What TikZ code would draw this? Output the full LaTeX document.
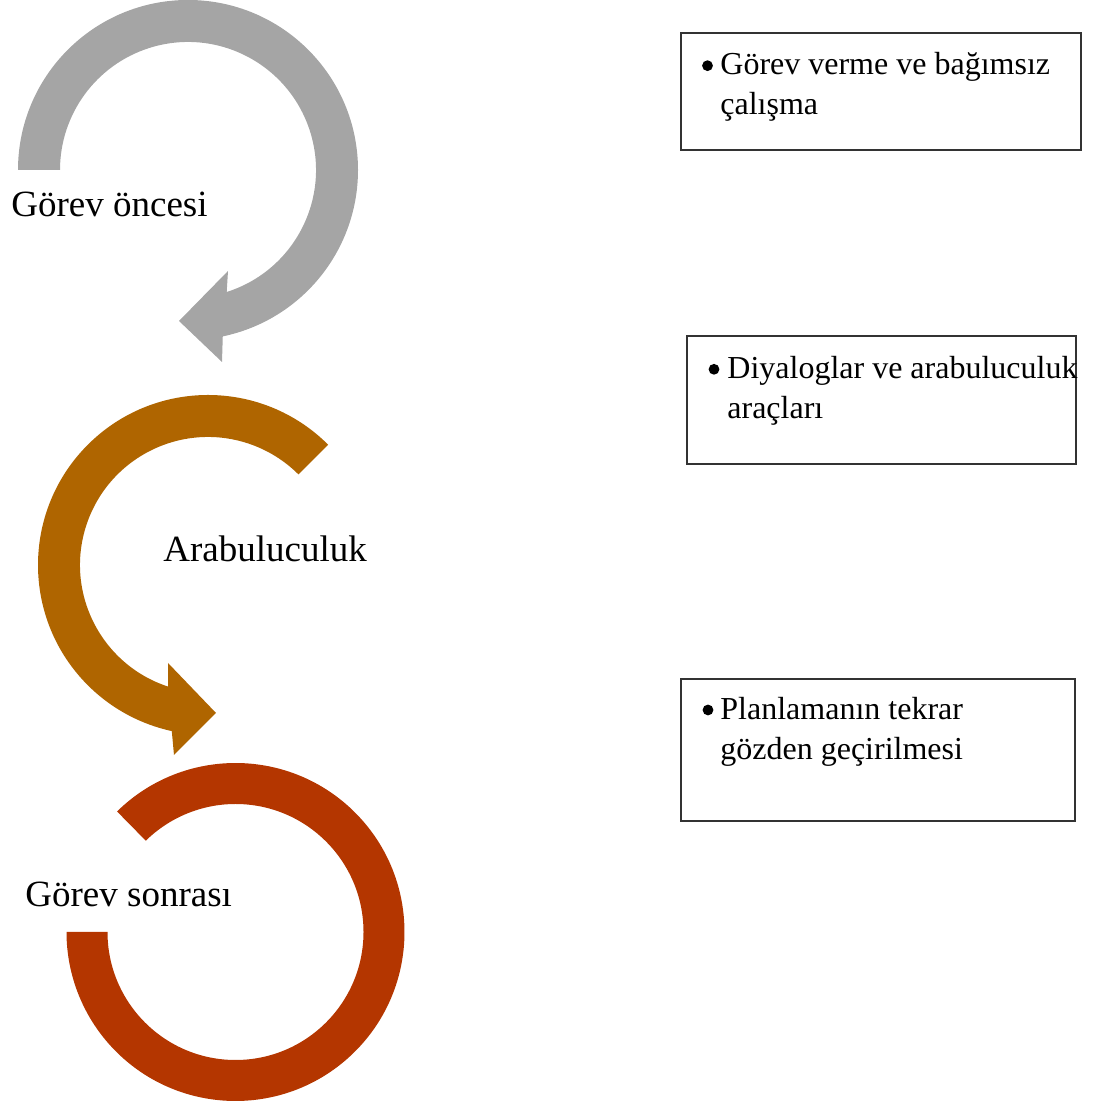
\documentclass[tikz,border=0pt]{standalone}
\usepackage{fontspec}
\setmainfont{Liberation Serif}
\usetikzlibrary{calc}
\definecolor{grayc}{HTML}{A5A5A5}
\definecolor{brownc}{HTML}{AF6500}
\definecolor{redc}{HTML}{B43600}
\begin{document}
\begin{tikzpicture}[x=0.5pt,y=0.5pt,
  lbl/.style={anchor=base west, inner sep=0pt, font=\fontsize{18.5}{22}\selectfont},
  txt/.style={anchor=base west, inner sep=0pt, font=\fontsize{16}{20}\selectfont},
  box/.style={draw=black!80, line width=0.6pt, inner sep=0pt},
  bul/.style={circle, fill=black, inner sep=0pt, minimum size=5.4pt}]
\useasboundingbox (0,0) rectangle (1093,1106);

% gray circular arrow
\coordinate (gc) at (188,936);
\fill[grayc] ($(gc)+(180:170)$) arc[start angle=180, end angle=-78.2, radius=170]
  -- (222,744) -- (179,785) -- (228,835)
  -- ($(gc)+(-72.4:128)$) arc[start angle=-72.4, end angle=180, radius=128] -- cycle;

% brown circular arrow
\coordinate (bc) at (208,541);
\fill[brownc] ($(bc)+(45:170)$) arc[start angle=45, end angle=257.7, radius=170]
  -- (174,351) -- (216,393) -- (168,443)
  -- ($(bc)+(251.8:128)$) arc[start angle=251.8, end angle=45, radius=128] -- cycle;

% red arc
\coordinate (rc) at (235.5,174);
\fill[redc] ($(rc)+(134.5:169)$) arc[start angle=134.5, end angle=-180, radius=169]
  -- ($(rc)+(180:128)$) arc[start angle=-180, end angle=134.5, radius=128] -- cycle;

% labels
\node[lbl] (l1) at (11,889) {Görev öncesi};
\node[lbl] (l2) at (163,544) {Arabuluculuk};
\node[lbl] (l3) at (25,199) {Görev sonrası};

% boxes
\node[box, minimum width=200pt, minimum height=58.5pt] (b1) at (881,1014.5) {};
\node[box, minimum width=194.5pt, minimum height=64pt] (b2) at (881.5,706) {};
\node[box, minimum width=197pt, minimum height=71pt] (b3) at (878,356) {};

\node[bul] (u1) at (707.5,1040.3) {};
\node[txt] (t1a) at (720,1031.7) {Görev verme ve bağımsız};
\node[txt] (t1b) at (720,991.7) {çalışma};

\node[bul] (u2) at (714,736.7) {};
\node[txt] (t2a) at (727,727.7) {Diyaloglar ve arabuluculuk};
\node[txt] (t2b) at (727,687) {araçları};

\node[bul] (u3) at (708,396) {};
\node[txt] (t3a) at (720,386) {Planlamanın tekrar};
\node[txt] (t3b) at (720,346.7) {gözden geçirilmesi};
\end{tikzpicture}
\end{document}
